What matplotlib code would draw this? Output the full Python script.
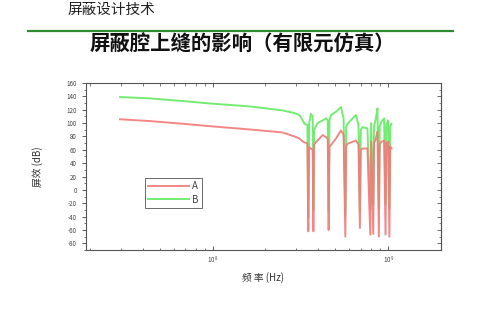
import matplotlib
matplotlib.use("Agg")
import matplotlib.pyplot as plt
from matplotlib.lines import Line2D
from matplotlib.ticker import MultipleLocator, LogLocator, NullFormatter

plt.rcParams['font.family'] = ['Noto Sans CJK SC', 'DejaVu Sans']

header_text = "屏蔽设计技术"
title_text = "屏蔽腔上缝的影响（有限元仿真）"
x_label = "频 率 (Hz)"
y_label = "屏效 (dB)"
series_names = ["A", "B"]

freq_hz = [2.97e7, 4.385e7, 6.76e7, 1.0e8, 1.622e8, 2.50e8, 2.924e8, 3.119e8,
           3.243e8, 3.334e8, 3.467e8, 3.508e8, 3.548e8, 3.631e8, 3.715e8,
           3.750e8, 3.784e8, 3.963e8, 4.236e8, 4.426e8, 4.529e8, 4.581e8,
           4.634e8, 4.721e8, 5.047e8, 5.383e8, 5.572e8, 5.702e8, 5.768e8,
           5.875e8, 6.266e8, 6.546e8, 6.776e8, 6.902e8, 6.982e8, 7.145e8,
           7.621e8, 7.907e8, 7.998e8, 8.222e8, 8.318e8, 8.511e8, 8.690e8,
           8.851e8, 8.954e8, 9.141e8, 9.484e8, 9.661e8, 9.772e8, 1.0e9,
           1.016e9, 1.028e9, 1.045e9]

db_a = [105.7, 103, 99, 95, 90.5, 86, 80, 77,
        73, 71, 70, -62, 64, 62, 60,
        -62, 68, 74, 82, 79, 76, -60,
        65, 67, 77, 89, 82, -70, 66,
        69, 72, 74, 68, -57, 60, 62,
        62, -67, 72, -66, 70, 77, 87,
        -70, 68, 72, 74, -67, 70, 72,
        -70, 65, 62]

db_b = [139, 137, 133, 129, 125, 119, 115, 112,
        105, 99, 97, -42, 100, 114, 110,
        -30, 90, 100, 104, 107, 104, -32,
        105, 112, 117, 124, 107, -38, 95,
        99, 107, 112, 97, -32, 90, 94,
        92, -28, 100, -22, 95, 107, 122,
        -28, 95, 102, 107, -22, 98, 104,
        -28, 95, 99]

y_ticks = [-80, -60, -40, -20, 0, 20, 40, 60, 80, 100, 120, 140, 160]

fig = plt.figure(figsize=(4.81, 3.31), dpi=100)

fig.text(68 / 481, 1 - 10 / 331, header_text, fontsize=10.5, ha='left', va='center',
         color='#222222')
fig.add_artist(Line2D([28 / 481, 453 / 481], [1 - 30.5 / 331, 1 - 30.5 / 331],
                      color='#2e8b2e', linewidth=1.6, transform=fig.transFigure))
fig.text(242 / 481, 1 - 44 / 331, title_text, fontsize=14.7, ha='center', va='center',
         color='#111111', fontweight='bold')

ax = fig.add_axes([86 / 481, 1 - 250 / 331, (441 - 86) / 481, (250 - 83) / 331])
ax.set_xscale('log')
lineA, = ax.plot(freq_hz, db_a, color='#f27a7a', linewidth=1.4, zorder=3, alpha=0.9)
lineB, = ax.plot(freq_hz, db_b, color='#74ec74', linewidth=1.4, zorder=2)

ax.set_xlim(1.9e7, 2.0e9)
ax.set_ylim(-90, 160)
ax.set_yticks(y_ticks)
ax.set_yticklabels([str(v) for v in y_ticks])
ax.yaxis.set_minor_locator(MultipleLocator(10))
ax.xaxis.set_major_locator(LogLocator(base=10, numticks=10))
ax.xaxis.set_minor_locator(LogLocator(base=10, subs=range(2, 10), numticks=20))
ax.xaxis.set_minor_formatter(NullFormatter())

for s in ax.spines.values():
    s.set_color('#555555')
    s.set_linewidth(0.8)

ax.tick_params(axis='y', which='both', direction='out', labelsize=4.5,
               colors='#444444', left=True, right=False)
ax.tick_params(axis='y', which='major', length=3, width=0.6)
ax.tick_params(axis='y', which='minor', length=1.8, width=0.5)
ax.tick_params(axis='x', which='both', direction='in', labelsize=4.5,
               colors='#444444', top=True, bottom=True)
ax.tick_params(axis='x', which='major', length=3, width=0.6)
ax.tick_params(axis='x', which='minor', length=1.8, width=0.5)

sec = ax.secondary_yaxis('right')
sec.set_yticks(y_ticks)
sec.yaxis.set_minor_locator(MultipleLocator(10))
sec.tick_params(axis='y', which='both', direction='in', labelright=False,
                colors='#555555')
sec.tick_params(axis='y', which='major', length=3, width=0.6)
sec.tick_params(axis='y', which='minor', length=1.8, width=0.5)
sec.spines['right'].set_color('#555555')
sec.spines['right'].set_linewidth(0.8)

ax.set_xlabel(x_label, fontsize=7, color='#333333', labelpad=4)
ax.set_ylabel(y_label, fontsize=7, color='#333333', labelpad=17)

leg = ax.legend([lineA, lineB], series_names, loc='lower left',
                bbox_to_anchor=(0.165, 0.25), fontsize=7, frameon=True,
                fancybox=False, edgecolor='#444444', handlelength=4.2,
                handletextpad=0.3, borderpad=0.35, labelspacing=0.35,
                borderaxespad=0)
leg.get_frame().set_linewidth(0.7)
for t in leg.get_texts():
    t.set_color('#444444')

fig.savefig('out.png', dpi=100)
